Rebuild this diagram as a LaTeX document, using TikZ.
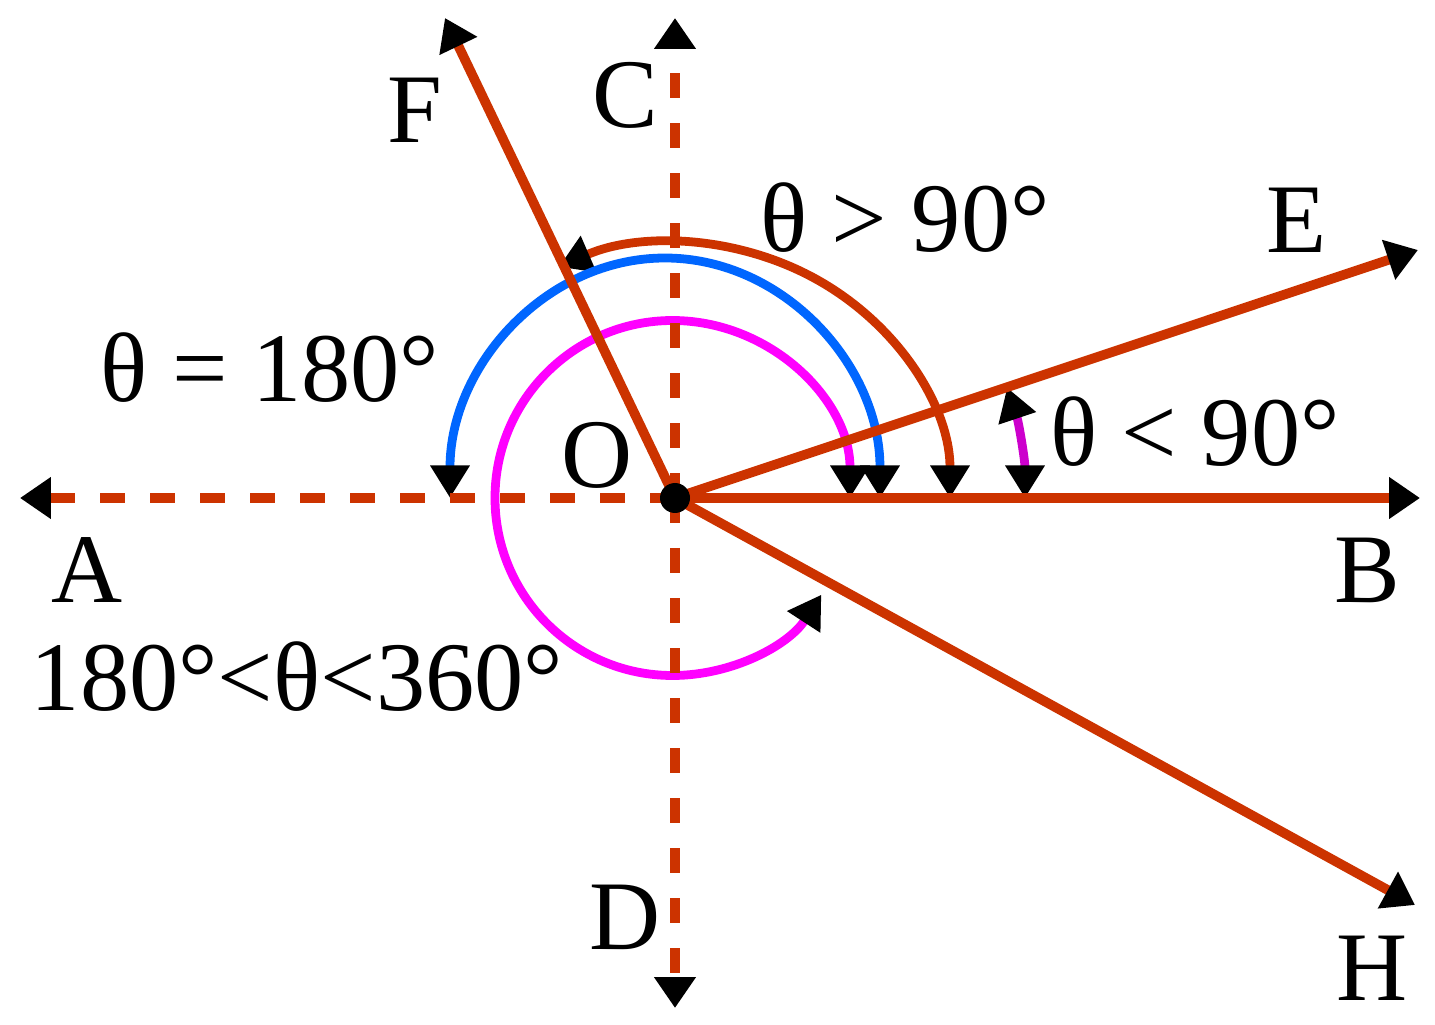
\documentclass[tikz,border=0pt]{standalone}
\usepackage{fontspec}
\setmainfont{Liberation Serif}
\usepackage{xcolor}
\usetikzlibrary{arrows.meta, positioning, calc}
\definecolor{rayred}{RGB}{204,51,0}
\definecolor{arcblue}{RGB}{0,102,255}
\definecolor{arcpink}{RGB}{255,0,255}
\definecolor{arcpurple}{RGB}{204,0,204}

\begin{document}
\begin{tikzpicture}[
    rayline/.style={rayred, line width=5.5pt, -{Triangle[length=0.62cm,width=0.8cm,color=black]}},
    dashline/.style={rayline, dash pattern=on 0.5cm off 0.5cm},
    arcline/.style={line width=5pt, {Triangle[length=0.65cm,width=0.75cm,color=black]}-{Triangle[length=0.65cm,width=0.75cm,color=black]}},
    lbl/.style={font=\fontsize{56}{60}\selectfont, inner sep=0pt}
  ]
      \useasboundingbox (-13.5,-10.54) rectangle (15.2,9.96);

      % points
      \coordinate (O) at (0,0);
      \coordinate (A) at (-13.1,0);
      \coordinate (B) at (14.9,0);
      \coordinate (C) at (0,9.6);
      \coordinate (D) at (0,-10.2);
      \coordinate (E) at (14.86,4.96);
      \coordinate (F) at (-4.6,9.6);
      \coordinate (H) at (14.8,-8.14);

      % angle arcs
      \draw [arcline, arcpurple] ($(O)+(7,0)$) arc[start angle=0, end angle=18.4, radius=7cm];
      \draw [arcline, rayred] ($(O)+(5.5,0)$) arc[start angle=0, end angle=115, x radius=5.5cm, y radius=5.1cm];
      \draw [arcline, arcblue] ($(O)+(4.1,0)$) arc[start angle=0, end angle=180, x radius=4.3cm, y radius=4.8cm];
      \draw [arcline, arcpink] ($(O)+(3.5,0)$) arc[start angle=0, end angle=327, radius=3.55cm];

      % rays
      \draw [dashline] (O) -- (A);
      \draw [dashline] (O) -- (C);
      \draw [dashline] (O) -- (D);
      \draw [rayline] (O) -- (B);
      \draw [rayline] (O) -- (E);
      \draw [rayline] (O) -- (F);
      \draw [rayline] (O) -- (H);
      \fill (O) circle (0.3);

      % labels
      \node[lbl] (lF) at (-5.2,7.76) {F};
      \node[lbl] (lC) at (-1.0,8.06) {C};
      \node[lbl] (lE) at (12.44,5.56) {E};
      \node[lbl] (lO) at (-1.56,0.86) {O};
      \node[lbl] (lA) at (-11.76,-1.44) {A};
      \node[lbl] (lB) at (13.84,-1.44) {B};
      \node[lbl] (lD) at (-1.0,-8.38) {D};
      \node[lbl] (lH) at (13.94,-9.4) {H};

      \node[lbl] (obtuse) at (4.6,5.6) {θ > 90°};
      \node[lbl] (straight) at (-8.1,2.6) {θ = 180°};
      \node[lbl] (acute) at (10.4,1.32) {θ < 90°};
      \node[lbl] (reflex) at (-7.56,-3.58) {180°<θ<360°};
    \end{tikzpicture}
\end{document}
